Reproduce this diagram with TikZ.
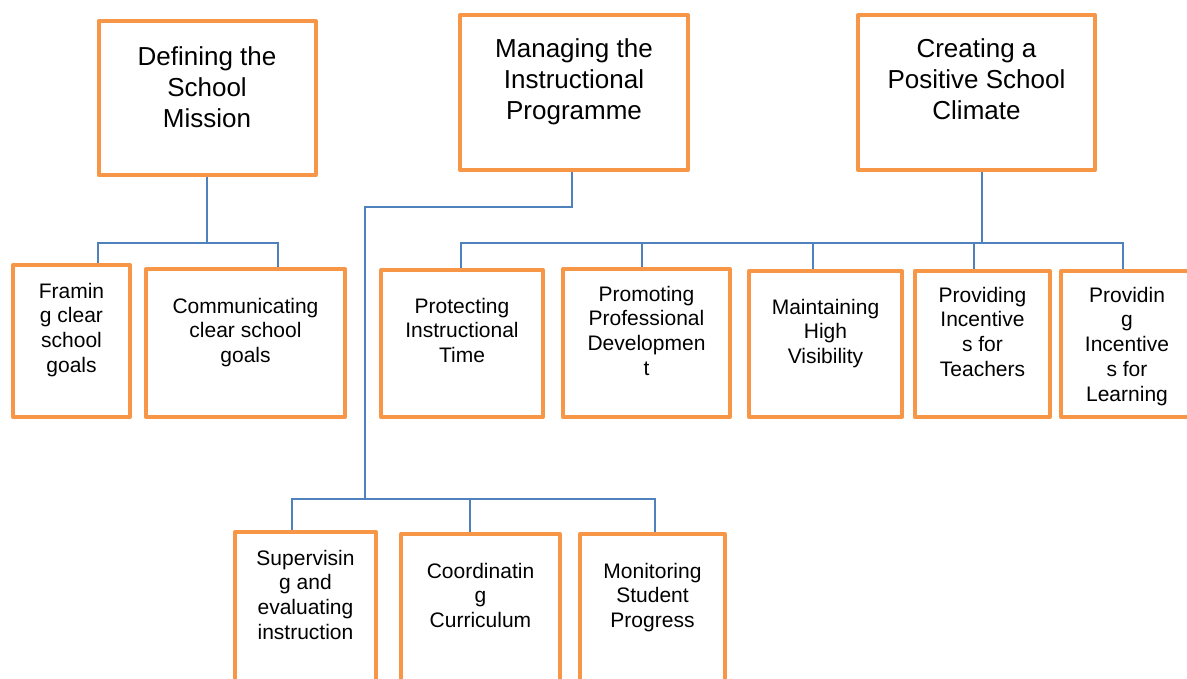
\documentclass[tikz,border=0pt]{standalone}
\usepackage{fontspec}
\setmainfont{Liberation Sans}
\usetikzlibrary{positioning}
\definecolor{boxorange}{HTML}{F79646}
\definecolor{linkblue}{HTML}{4F81BD}

\begin{document}
\begin{tikzpicture}[x=1pt, y=-1pt,
    orgbox/.style={draw=boxorange, line width=4pt, line join=round, inner sep=0pt},
    headtext/.style={align=center, inner sep=0pt, outer sep=0pt, font=\fontsize{26}{31}\selectfont},
    subtext/.style={align=center, inner sep=0pt, outer sep=0pt, font=\fontsize{21}{24.7}\selectfont},
    link/.style={draw=linkblue, line width=1.3pt}]
    \useasboundingbox (0,0) rectangle (1187,679);
    \clip (0,0) rectangle (1187,679);
    % Draw top level boxes
    \node[orgbox, minimum width=217pt, minimum height=154pt] (mission) at (207,98) {};
    \node[headtext, below=28pt of mission.north] (mission-t) {Defining the\\School\\Mission};
    \node[orgbox, minimum width=228pt, minimum height=155pt] (managing) at (574,92.5) {};
    \node[headtext, below=26pt of managing.north] (managing-t) {Managing the\\Instructional\\Programme};
    \node[orgbox, minimum width=237pt, minimum height=155pt] (climate) at (976.5,92.5) {};
    \node[headtext, below=26pt of climate.north] (climate-t) {Creating a\\Positive School\\Climate};
    % Draw mission functions
    \node[orgbox, minimum width=117pt, minimum height=152pt] (framing) at (71.5,341) {};
    \node[subtext, below=20pt of framing.north] (framing-t) {Framin\\g clear\\school\\goals};
    \node[orgbox, minimum width=199pt, minimum height=148pt] (communicating) at (245.5,343) {};
    \node[subtext, below=31pt of communicating.north] (communicating-t) {Communicating\\clear school\\goals};
    % Draw climate functions
    \node[orgbox, minimum width=162pt, minimum height=147pt] (protecting) at (462,343.5) {};
    \node[subtext, below=30pt of protecting.north] (protecting-t) {Protecting\\Instructional\\Time};
    \node[orgbox, minimum width=167pt, minimum height=148pt] (promoting) at (646.5,343) {};
    \node[subtext, below=19pt of promoting.north] (promoting-t) {Promoting\\Professional\\Developmen\\t};
    \node[orgbox, minimum width=153pt, minimum height=146pt] (visibility) at (825.5,344) {};
    \node[subtext, below=30pt of visibility.north] (visibility-t) {Maintaining\\High\\Visibility};
    \node[orgbox, minimum width=135pt, minimum height=146pt] (teachers) at (982.5,344) {};
    \node[subtext, below=18pt of teachers.north] (teachers-t) {Providing\\Incentive\\s for\\Teachers};
    \node[orgbox, minimum width=132pt, minimum height=146pt] (learning) at (1127,344) {};
    \node[subtext, below=18pt of learning.north] (learning-t) {Providin\\g\\Incentive\\s for\\Learning};
    % Draw instruction functions (cut off at the bottom)
    \node[orgbox, minimum width=141pt, minimum height=170pt] (supervising) at (305.5,617) {};
    \node[subtext, below=20pt of supervising.north] (supervising-t) {Supervisin\\g and\\evaluating\\instruction};
    \node[orgbox, minimum width=159pt, minimum height=170pt] (coordinating) at (480.5,619) {};
    \node[subtext, below=31pt of coordinating.north] (coordinating-t) {Coordinatin\\g\\Curriculum};
    \node[orgbox, minimum width=145pt, minimum height=170pt] (monitoring) at (652.5,619) {};
    \node[subtext, below=31pt of monitoring.north] (monitoring-t) {Monitoring\\Student\\Progress};
    % Draw connectors
    \coordinate (mbus) at (207,243);
    \coordinate (ibend) at (365,207);
    \coordinate (ibus) at (365,499);
    \coordinate (cbus) at (982,243);
    \draw[link] (mission.south) -- (mbus);
    \draw[link] ([xshift=26.5pt]framing.north) |- (mbus) -| ([xshift=32.5pt]communicating.north);
    \draw[link] ([xshift=-2pt]managing.south) |- (ibend) -- (ibus);
    \draw[link] ([xshift=-13.5pt]supervising.north) |- (ibus) -| ([xshift=2.5pt]monitoring.north);
    \draw[link] ([xshift=-10.5pt]coordinating.north) |- (ibus);
    \draw[link] ([xshift=5.5pt]climate.south) -- (cbus);
    \draw[link] ([xshift=-1pt]protecting.north) |- (cbus) -| ([xshift=-4pt]learning.north);
    \draw[link] ([xshift=-4.5pt]promoting.north) |- (cbus);
    \draw[link] ([xshift=-12.5pt]visibility.north) |- (cbus);
    \draw[link] ([xshift=-8.5pt]teachers.north) |- (cbus);
\end{tikzpicture}
\end{document}
